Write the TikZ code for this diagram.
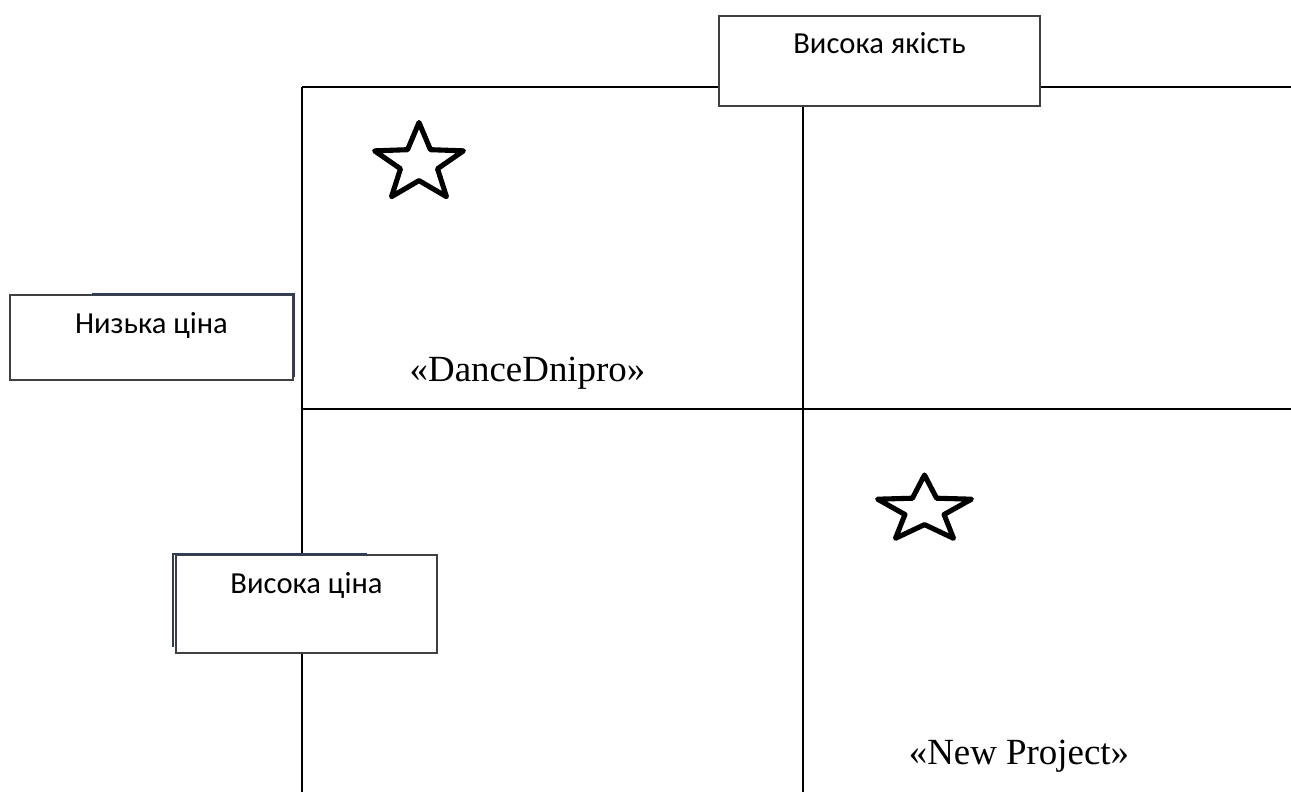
\documentclass[tikz,border=0pt]{standalone}
\usepackage{fontspec}
\setmainfont{Liberation Serif}
\newfontfamily\boxfont{Carlito}
\usetikzlibrary{positioning,shapes.geometric}
\definecolor{boxgray}{RGB}{64,64,64}
\definecolor{edgenavy}{RGB}{44,62,90}

\begin{document}
\begin{tikzpicture}[
  x=0.02cm,y=-0.02cm,
  axis/.style={draw=black,line width=1.2pt},
  pricebox/.style={draw=boxgray,line width=0.9pt,fill=white,inner sep=0pt},
  boxtext/.style={font=\boxfont\fontsize{17.4}{20}\selectfont,inner sep=0pt},
  navyedge/.style={draw=edgenavy,line width=1.2pt},
  starmark/.style={star,star points=5,star point ratio=2.4,draw=black,line width=2.9pt,line join=round,inner sep=0pt,transform shape},
  firm/.style={font=\fontsize{21}{24}\selectfont,inner sep=0pt,anchor=base},
]
\useasboundingbox (0,0) rectangle (1291,792);
% grid of quadrants
\coordinate (tl) at (302,87);
\coordinate (tr) at (1291,87);
\coordinate (bl) at (302,792);
\coordinate (ml) at (302,409);
\coordinate (mr) at (1291,409);
\coordinate (mt) at (803,106);
\coordinate (mb) at (803,792);
\draw[axis] (tl)--(tr);
\draw[axis] (tl)--(bl);
\draw[axis] (ml)--(mr);
\draw[axis] (mt)--(mb);
% axis labels
\node[pricebox,minimum width=6.42cm,minimum height=1.8cm] (quality) at (879.5,61) {};
\node[boxtext,below=0.76cm of quality.north,anchor=base] (qualitytxt) {Висока якість};
\node[pricebox,minimum width=5.66cm,minimum height=1.7cm] (low) at (151.5,337.5) {};
\node[boxtext,below=0.78cm of low.north,anchor=base] (lowtxt) {Низька ціна};
\draw[navyedge] (92,294)--(294,294)--(294,377);
\node[pricebox,minimum width=5.22cm,minimum height=1.96cm] (high) at (306.5,604) {};
\node[boxtext,below=0.78cm of high.north,anchor=base] (hightxt) {Висока ціна};
\draw[navyedge] (367,554)--(173,554)--(173,647);
% stars and firms
\begin{scope}[shift={(419,163.5)},xscale=1.14]
  \node[starmark,minimum size=1.64cm] (star1) at (0,0) {};
\end{scope}
\begin{scope}[shift={(924.5,510)},xscale=1.41]
  \node[starmark,minimum size=1.4cm] (star2) at (0,0) {};
\end{scope}
\node[firm] (dance) at (527.5,381) {«DanceDnipro»};
\node[firm] (newp) at (1019,764) {«New Project»};
\end{tikzpicture}
\end{document}
